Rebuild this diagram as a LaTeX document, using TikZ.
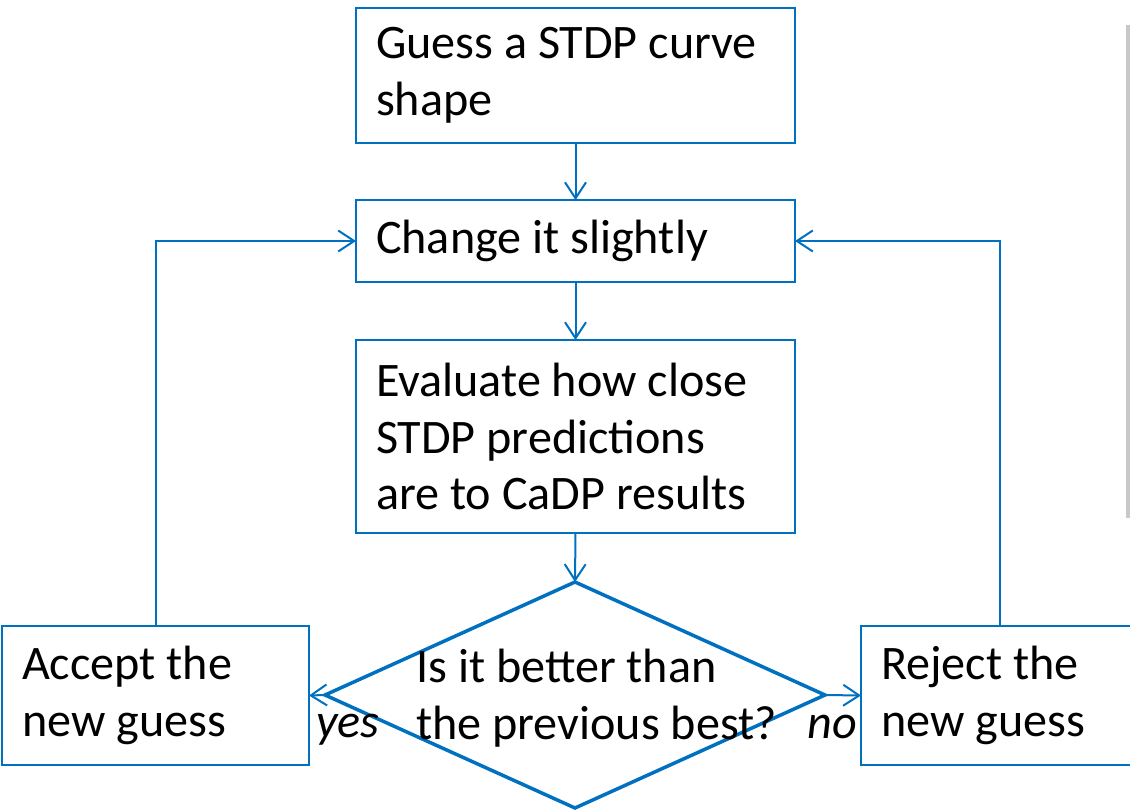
\documentclass[tikz,border=0pt]{standalone}
\usepackage{fontspec}
\setmainfont{Carlito}
\definecolor{flowblue}{RGB}{0, 112, 192}
\definecolor{slidegray}{RGB}{200, 200, 200}
\usepackage{tikz}
\usetikzlibrary{shapes.geometric, arrows.meta, positioning}
\tikzset{
    stepbox/.style={rectangle, draw=flowblue, line width=0.04cm, fill=white, align=flush left, inner sep=0.4cm, outer sep=0pt, font=\fontsize{27.4}{32.4}\selectfont},
    decision/.style={diamond, draw=flowblue, line width=0.07cm, minimum width=10cm, minimum height=4.52cm, inner sep=0pt, outer sep=0pt},
    plaintext/.style={align=left, inner sep=0pt, font=\fontsize{27.4}{32.4}\selectfont},
    answer/.style={inner sep=0pt, font=\fontsize{27.4}{32.4}\selectfont\itshape},
    arrow/.style={line width=0.04cm, ->, >={Straight Barb[length=0.32cm, width=0.42cm]}, flowblue}
}
\begin{document}
\begin{tikzpicture}
    \useasboundingbox (0,0) rectangle (22.6,-16.2);

    % Main column of steps
    \node[stepbox, minimum width=8.78cm, minimum height=2.7cm, text width=7.98cm] (guess) at (11.51, -1.51) {Guess a STDP curve\\shape};
    \node[stepbox, minimum width=8.78cm, minimum height=1.52cm, text width=7.98cm] (change) at (11.51, -4.82) {Change it slightly};
    \node[stepbox, minimum width=8.78cm, minimum height=3.86cm, text width=7.98cm] (evaluate) at (11.51, -8.73) {Evaluate how close\\STDP predictions\\are to CaDP results};

    % Decision and outcomes
    \node[decision] (test) at (11.5, -13.9) {};
    \node[plaintext] (testtext) at (11.93, -13.97) {Is it better than\\the previous best?};
    \node[stepbox, minimum width=6.14cm, minimum height=2.7cm, text width=5.34cm] (accept) at (3.11, -13.91) {Accept the\\new guess};
    \node[stepbox, minimum width=5.56cm, minimum height=2.7cm, text width=4.76cm] (reject) at (20.0, -13.91) {Reject the\\new guess};
    \node[answer] (yes) at (6.96, -14.6) {yes};
    \node[answer] (no) at (16.65, -14.54) {no};

    % Arrows
    \draw[arrow] (guess.south) -- (change.north);
    \draw[arrow] (change.south) -- (evaluate.north);
    \draw[arrow] (evaluate.south) -- (test.north);
    \draw[arrow] (test.west) -- (accept.east);
    \draw[arrow] (test.east) -- (reject.west);
    \draw[arrow] (accept.north) |- (change.west);
    \draw[arrow] (reject.north) |- (change.east);

    % Slide edge
    \draw[slidegray, line width=0.08cm] (22.55, -0.5) -- (22.55, -10.36);
\end{tikzpicture}
\end{document}
